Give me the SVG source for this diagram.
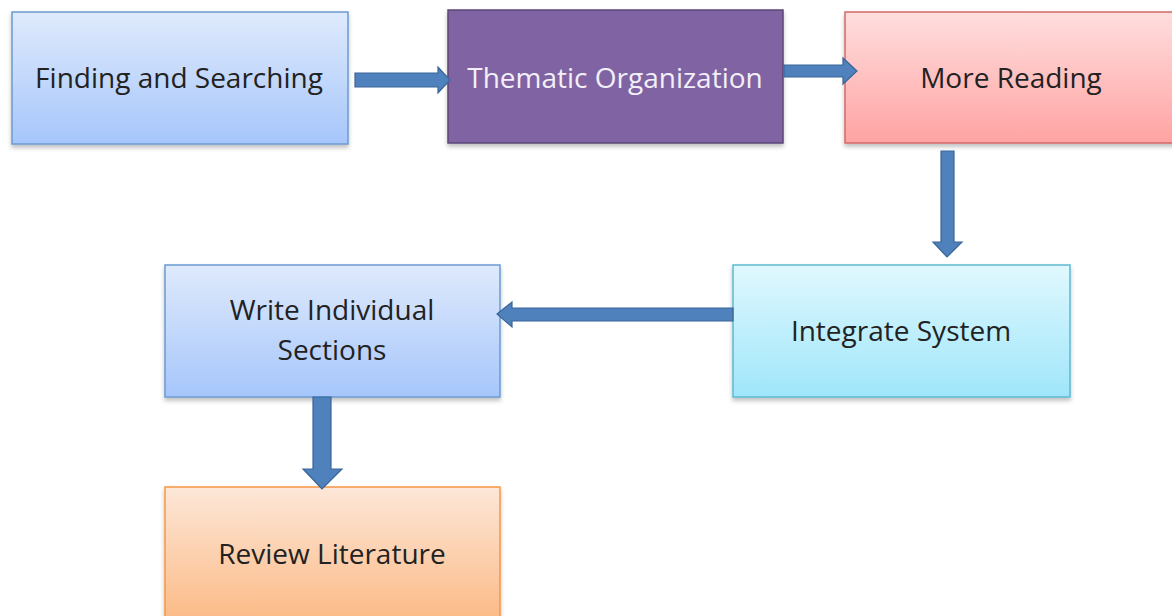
<svg xmlns="http://www.w3.org/2000/svg" width="1172" height="616" viewBox="0 0 1172 616">
<defs>
<linearGradient id="gBlue" x1="0" y1="0" x2="0" y2="1"><stop offset="0" stop-color="#dfeafc"/><stop offset="1" stop-color="#a6c6fb"/></linearGradient>
<linearGradient id="gRed" x1="0" y1="0" x2="0" y2="1"><stop offset="0" stop-color="#ffdede"/><stop offset="1" stop-color="#ffa3a3"/></linearGradient>
<linearGradient id="gCyan" x1="0" y1="0" x2="0" y2="1"><stop offset="0" stop-color="#e0f8fe"/><stop offset="1" stop-color="#9fe6fa"/></linearGradient>
<linearGradient id="gOrange" x1="0" y1="0" x2="0" y2="1"><stop offset="0" stop-color="#fde7d8"/><stop offset="1" stop-color="#fbb882"/></linearGradient>
<filter id="sh" x="-5%" y="-5%" width="110%" height="120%"><feDropShadow dx="0" dy="3" stdDeviation="2" flood-color="#000" flood-opacity="0.25"/></filter>
</defs>
<style>
.box{stroke-width:1.5;filter:url(#sh)}
.t{font-family:"Open Sans","Noto Sans",sans-serif;font-size:28px;text-anchor:middle;fill:#222}
.arrow{fill:#4f81bd;stroke:#3a6597;stroke-width:1.2}
</style>
<rect width="1172" height="616" fill="#fff"/>
<g id="n1"><rect class="box" x="12" y="12" width="336" height="132" fill="url(#gBlue)" stroke="#6b9bd2"/><text class="t" x="179" y="88">Finding and Searching</text></g>
<g id="n2"><rect class="box" x="448" y="10" width="335" height="133" fill="#8064a2" stroke="#5c4777"/><text class="t" x="615" y="88" style="fill:#f2eff8">Thematic Organization</text></g>
<g id="n3"><rect class="box" x="845" y="12" width="340" height="131" fill="url(#gRed)" stroke="#d36a6a"/><text class="t" x="1011" y="88">More Reading</text></g>
<g id="n4"><rect class="box" x="165" y="265" width="335" height="132" fill="url(#gBlue)" stroke="#6b9bd2"/><text class="t" x="332" y="320">Write Individual</text><text class="t" x="332" y="360">Sections</text></g>
<g id="n5"><rect class="box" x="733" y="265" width="337" height="132" fill="url(#gCyan)" stroke="#5db9d1"/><text class="t" x="901" y="341">Integrate System</text></g>
<g id="n6"><rect class="box" x="165" y="487" width="335" height="140" fill="url(#gOrange)" stroke="#f79646"/><text class="t" x="332" y="564">Review Literature</text></g>
<g id="connectors">
<path class="arrow" d="M355,73 H438 V67 L450,80 L438,93 V87 H355 Z"/>
<path class="arrow" d="M784,65 H843 V58 L857,71 L843,84 V77 H784 Z"/>
<path class="arrow" d="M941,151 H954 V242 H962 L947,257 L933,242 H941 Z"/>
<path class="arrow" d="M733,308 H512 V302 L497,314 L512,327 V321 H733 Z"/>
<path class="arrow" d="M313,397 H331 V469 H342 L322,489 L303,469 H313 Z"/>
</g>
</svg>
